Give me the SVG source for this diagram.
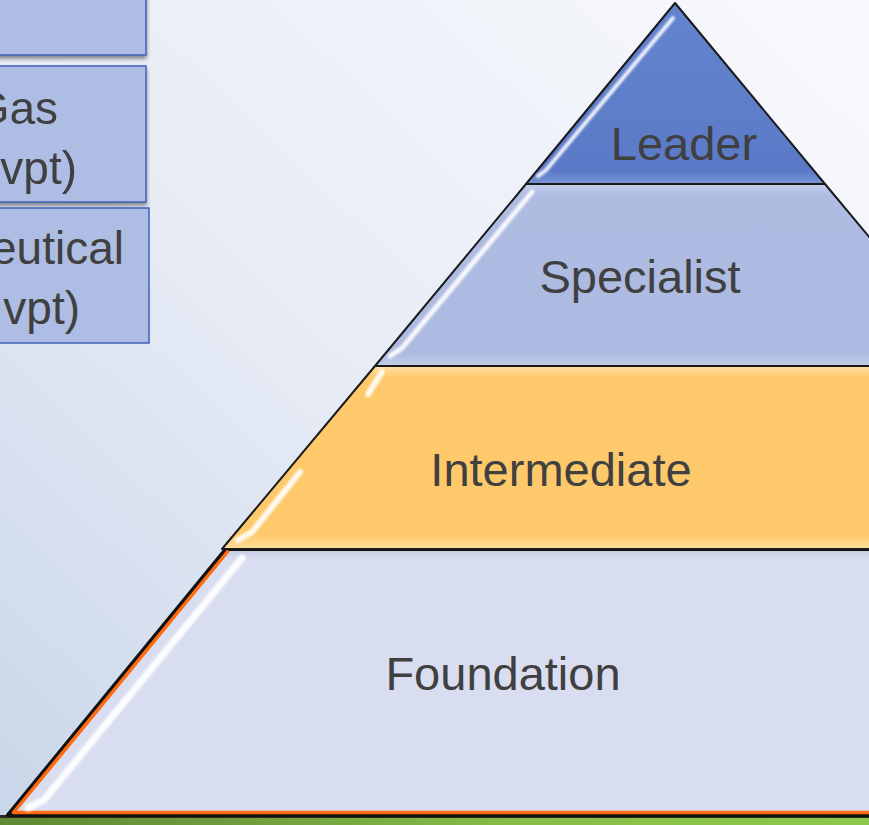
<svg xmlns="http://www.w3.org/2000/svg" width="869" height="825" viewBox="0 0 869 825">
<defs>
<linearGradient id="bg" x1="1" y1="0" x2="0" y2="1">
<stop offset="0" stop-color="#f9fafd"/>
<stop offset="0.55" stop-color="#e6ebf5"/>
<stop offset="1" stop-color="#c8d6e9"/>
</linearGradient>
<linearGradient id="green" x1="0" y1="0" x2="1" y2="0">
<stop offset="0" stop-color="#5f8a33"/>
<stop offset="0.25" stop-color="#6f9a3c"/>
<stop offset="0.6" stop-color="#86be47"/>
<stop offset="1" stop-color="#8ec74e"/>
</linearGradient>
<linearGradient id="gLeader" x1="0" y1="0" x2="0" y2="1">
<stop offset="0" stop-color="#6584cf"/>
<stop offset="0.93" stop-color="#5a7ac7"/>
<stop offset="1" stop-color="#7e95d6"/>
</linearGradient>
<linearGradient id="gSpec" x1="0" y1="0" x2="0" y2="1">
<stop offset="0" stop-color="#c5cfec"/>
<stop offset="0.06" stop-color="#afbce2"/>
<stop offset="0.93" stop-color="#adbae1"/>
<stop offset="1" stop-color="#c4ceea"/>
</linearGradient>
<linearGradient id="gInt" x1="0" y1="0" x2="0" y2="1">
<stop offset="0" stop-color="#ffe1a6"/>
<stop offset="0.06" stop-color="#fec96b"/>
<stop offset="0.92" stop-color="#fec96a"/>
<stop offset="1" stop-color="#ffe0a0"/>
</linearGradient>
<linearGradient id="gFound" x1="0" y1="0" x2="0" y2="1">
<stop offset="0" stop-color="#c4cae0"/>
<stop offset="0.04" stop-color="#d8ddf0"/>
<stop offset="1" stop-color="#d8ddf1"/>
</linearGradient>
<filter id="shadow" x="-10%" y="-10%" width="120%" height="130%">
<feGaussianBlur in="SourceAlpha" stdDeviation="2"/>
<feOffset dx="0" dy="3"/>
<feComponentTransfer><feFuncA type="linear" slope="0.45"/></feComponentTransfer>
<feMerge><feMergeNode/><feMergeNode in="SourceGraphic"/></feMerge>
</filter>
<filter id="soft" x="-20%" y="-20%" width="140%" height="140%">
<feGaussianBlur stdDeviation="1.2"/>
</filter>
</defs>
<style>
.box{fill:#aebde3;stroke:#3f5fb8;stroke-width:1.5}
.band{stroke:#1a1a1a;stroke-width:2;stroke-linejoin:round}
.lbl{font-family:"Liberation Sans",Arial,sans-serif;font-size:47px;fill:#404040}
.blbl{font-family:"Liberation Sans",Arial,sans-serif;font-size:46px;fill:#404040}
.hl{fill:none;stroke:#ffffff;stroke-linecap:round;filter:url(#soft)}
</style>
<rect x="0" y="0" width="869" height="825" fill="url(#bg)"/>
<rect x="0" y="815" width="869" height="10" fill="url(#green)"/>
<rect x="0" y="815" width="869" height="3" fill="#2b2b1c"/>

<g id="box1" filter="url(#shadow)">
<rect class="box" x="-20" y="-10" width="166" height="65"/>
</g>
<g id="box2" filter="url(#shadow)">
<rect class="box" x="-20" y="66" width="166" height="136"/>
<text class="blbl" x="58" y="124" text-anchor="end">Gas</text>
<text class="blbl" x="77" y="184" text-anchor="end">vpt)</text>
</g>
<g id="box3">
<rect class="box" x="-20" y="208" width="169" height="135"/>
<text class="blbl" x="124" y="264" text-anchor="end">eutical</text>
<text class="blbl" x="80" y="324" text-anchor="end">vpt)</text>
</g>

<g id="foundation">
<polygon points="226,549 900,549 900,815 8,815" fill="url(#gFound)" stroke="#111" stroke-width="4" stroke-linejoin="round"/>
<polyline points="227,551 12,813 900,813" fill="none" stroke="#ff6a10" stroke-width="3.5" stroke-linejoin="round" transform="translate(1.5,-0.5)"/>
<path class="hl" d="M242,558 L44,800 L28,808" stroke-width="7" opacity="0.95"/>
<text class="lbl" x="503" y="690" text-anchor="middle">Foundation</text>
</g>
<g id="intermediate">
<polygon class="band" points="375,366 900,366 900,549 222,549" fill="url(#gInt)"/>
<path class="hl" d="M300,472 L252,532 L238,540" stroke="#fff8d0" stroke-width="6" opacity="0.9"/>
<path class="hl" d="M382,372 L368,394" stroke="#fff8d0" stroke-width="6" opacity="0.9"/>
<text class="lbl" x="561" y="486" text-anchor="middle">Intermediate</text>
</g>
<g id="specialist">
<polygon class="band" points="526,184 825,184 900,274 900,366 375,366" fill="url(#gSpec)"/>
<path class="hl" d="M532,192 L402,348 L390,356" stroke="#f4f7ff" stroke-width="5" opacity="0.9"/>
<text class="lbl" x="640" y="293" text-anchor="middle">Specialist</text>
</g>
<g id="leader">
<polygon class="band" points="675,3 825,184 526,184" fill="url(#gLeader)"/>
<path class="hl" d="M673,18 L546,170 L538,176" stroke="#e2ebff" stroke-width="4" opacity="0.9"/>
<text class="lbl" x="684" y="160" text-anchor="middle">Leader</text>
</g>
</svg>
